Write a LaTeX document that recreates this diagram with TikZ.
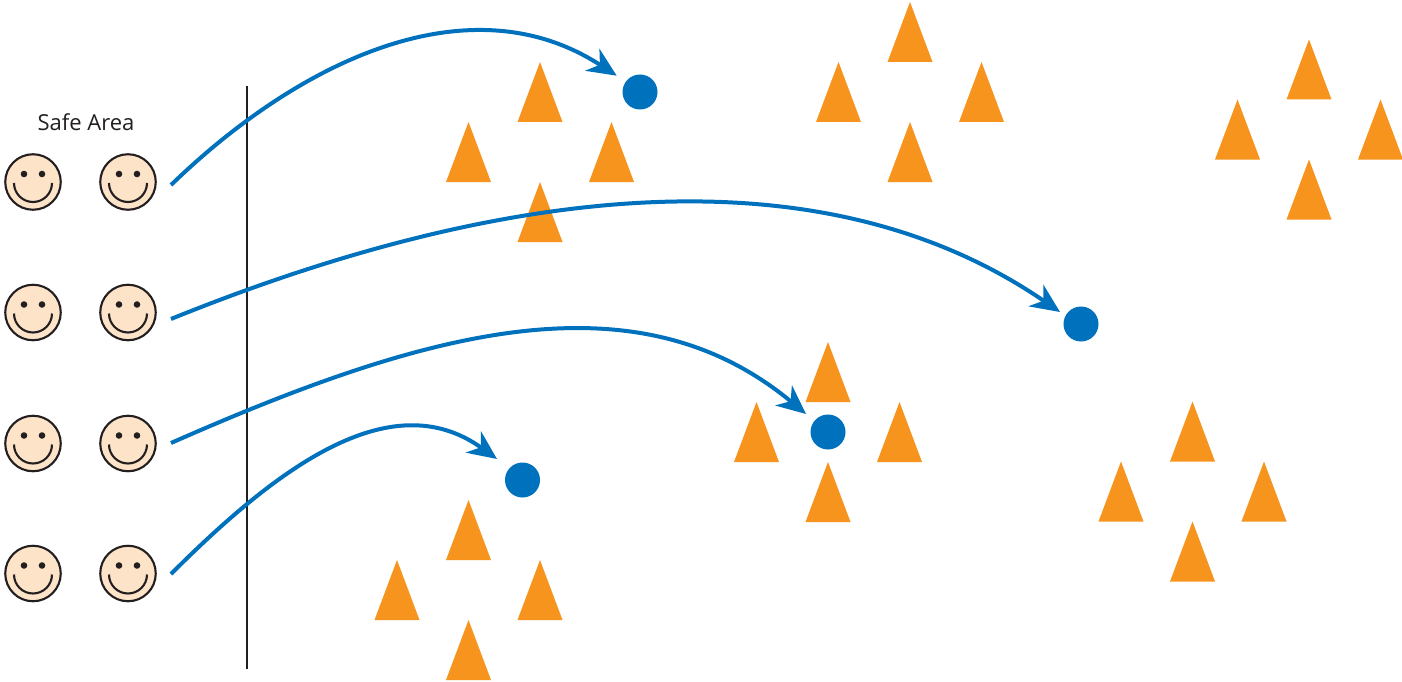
\documentclass[tikz,border=0pt]{standalone}
\usepackage{fontspec}
\setmainfont{Open Sans}
\usetikzlibrary{arrows.meta}
\definecolor{tri}{HTML}{F7941D}
\definecolor{blu}{HTML}{0071BC}
\definecolor{skin}{HTML}{FDE3C8}
\definecolor{ink}{HTML}{231F20}
\tikzset{
  facebox/.style={circle,draw=ink,line width=2.1pt,fill=skin,minimum size=55.5pt,inner sep=0pt},
  target/.style={circle,fill=blu,minimum size=35pt,inner sep=0pt},
  jump/.style={draw=blu,line width=4pt,-{Stealth[length=29pt,width=26pt,inset=9pt]}},
  wall/.style={draw=ink,line width=2pt},
  trifill/.style={fill=tri},
  label/.style={text=ink,font=\fontsize{22pt}{26pt}\selectfont,inner sep=0pt}
}
\newcommand{\smiley}[3]{%
  \node[facebox] (#1) at (#2,#3) {};
  \fill[ink] (#2-9,#3-8) circle (3.3);
  \fill[ink] (#2+9,#3-8) circle (3.3);
  \draw[ink,line width=2.1pt] (#2-19,#3+1) arc[start angle=180,end angle=0,radius=19];
}
\newcommand{\trig}[2]{\fill[trifill] (#1,#2) -- (#1+22.5,#2+60) -- (#1-22.5,#2+60) -- cycle;}
\newcommand{\cluster}[2]{%
  \trig{#1}{#2}\trig{#1-71.5}{#2+60}\trig{#1+71.5}{#2+60}\trig{#1}{#2+120}}
\begin{document}
\begin{tikzpicture}[x=1pt,y=-1pt]
\useasboundingbox (0,0) rectangle (1402,682);
\fill[white] (0,0) rectangle (1402,682);
\cluster{540}{62}
\cluster{910}{2}
\cluster{1309}{39.5}
\cluster{828}{342}
\cluster{1192.5}{401.5}
\cluster{468.5}{500}
\node[label,anchor=base] (safe) at (86,131) {Safe Area};
\smiley{a1}{33}{182}\smiley{b1}{128}{182}
\smiley{a2}{33}{312.5}\smiley{b2}{128}{312.5}
\smiley{a3}{33}{443.5}\smiley{b3}{128}{443.5}
\smiley{a4}{33}{573.5}\smiley{b4}{128}{573.5}
\coordinate (wt) at (246.5,86);
\coordinate (wb) at (246.5,669);
\draw[wall] (wt) -- (wb);
\node[target] (d1) at (640,92) {};
\node[target] (d2) at (1081,324) {};
\node[target] (d3) at (828,432) {};
\node[target] (d4) at (522.5,480) {};
\coordinate (s1) at (171,185);
\coordinate (s2) at (171,319);
\coordinate (s3) at (171,443);
\coordinate (s4) at (171,574);
\coordinate (t1) at (616.7,75.7);
\coordinate (t2) at (1060,312);
\coordinate (t3) at (806,414);
\coordinate (t4) at (497,459);
\draw[jump] (s1) .. controls (300,60) and (470,-20) .. (t1);
\draw[jump] (s2) .. controls (445,208) and (795,130) .. (t2);
\draw[jump] (s3) .. controls (425,331) and (635,272) .. (t3);
\draw[jump] (s4) .. controls (275,470) and (390,382) .. (t4);
\end{tikzpicture}
\end{document}
